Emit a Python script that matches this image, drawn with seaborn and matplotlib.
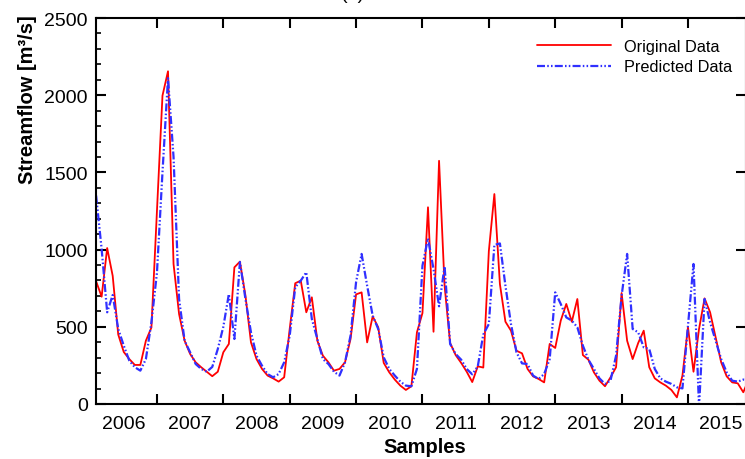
import numpy as np
import pandas as pd
import seaborn as sns
import matplotlib.pyplot as plt
from matplotlib.ticker import FixedLocator, MultipleLocator, NullFormatter

# monthly samples, Feb 2006 .. Dec 2015
original = [795, 695, 1010, 830, 450, 337, 291, 253, 253, 410, 495, 1250,
            1997, 2155, 907, 583, 410, 324, 270, 238, 209, 180, 209, 335,
            389, 885, 922, 702, 399, 291, 227, 184, 166, 145, 173, 486,
            782, 799, 594, 691, 410, 313, 270, 216, 227, 270, 421, 710,
            723, 399, 568, 497, 266, 205, 158, 119, 91, 115, 464, 589,
            1274, 468, 1575, 766, 395, 317, 266, 209, 142, 244, 236, 990,
            1360, 777, 533, 475, 345, 328, 227, 179, 162, 140, 389, 363,
            540, 648, 533, 680, 317, 287, 205, 151, 115, 173, 238, 719,
            410, 291, 395, 475, 238, 166, 140, 119, 91, 43, 184, 497,
            209, 486, 684, 594, 432, 270, 179, 140, 134, 76, 160]
predicted = [1350, 1004, 594, 706, 486, 378, 281, 238, 216, 291, 529, 850,
             1500, 2110, 1600, 680, 410, 335, 259, 227, 209, 240, 356, 500,
             712, 421, 920, 680, 464, 313, 248, 194, 173, 194, 270, 443,
             756, 799, 853, 551, 421, 291, 259, 209, 184, 270, 443, 790,
             972, 766, 572, 486, 302, 227, 184, 145, 119, 115, 227, 896,
             1073, 874, 633, 892, 389, 324, 287, 227, 192, 244, 450, 518,
             1030, 1040, 766, 518, 335, 263, 259, 184, 162, 194, 291, 723,
             648, 561, 540, 497, 378, 287, 227, 166, 130, 152, 313, 700,
             972, 486, 464, 367, 356, 227, 166, 145, 130, 108, 101, 507,
             907, -20, 680, 529, 410, 291, 205, 151, 145, 158, 155]
years = [2006, 2007, 2008, 2009, 2010, 2011, 2012, 2013, 2014, 2015]

df = pd.DataFrame({
    "t": 2006 + np.arange(1, len(original) + 1) / 12,
    "Original Data": original,
    "Predicted Data": predicted,
})

sns.set_style("ticks", {"axes.edgecolor": "black", "text.color": "black",
                        "xtick.color": "black", "ytick.color": "black",
                        "axes.labelcolor": "black"})
plt.rcParams["font.family"] = ["Liberation Sans", "DejaVu Sans"]

fig = plt.figure(figsize=(7.45, 4.6), dpi=100)
ax = fig.add_axes([96.1 / 745, 55 / 460, 649.4 / 745, 386 / 460])

sns.lineplot(data=df, x="t", y="Original Data", ax=ax, color="#ff0000",
             lw=1.3, label="Original Data")
sns.lineplot(data=df, x="t", y="Predicted Data", ax=ax, color="#3030ff",
             lw=1.6, linestyle=(0, (3.6, 1.0, 0.7, 1.0, 0.7, 1.0)),
             label="Predicted Data")

ax.set_xlim(2006 + 1 / 12, 2006 + (745.5 - 90.6) / 66.375)
ax.set_ylim(0, 2500)

# year boundaries as ticks, year names in between
ax.xaxis.set_major_locator(FixedLocator(years[1:]))
ax.xaxis.set_major_formatter(NullFormatter())
ax.xaxis.set_minor_locator(FixedLocator([y + 0.5 for y in years]))
ax.set_xticklabels([str(y) for y in years], minor=True)
ax.tick_params(axis="x", which="major", direction="in", length=7, width=1.5,
               top=True, bottom=True)
ax.tick_params(axis="x", which="minor", length=0, pad=8, labelsize=14)

ax.yaxis.set_major_locator(MultipleLocator(500))
ax.yaxis.set_minor_locator(MultipleLocator(100))
ax.tick_params(axis="y", which="major", direction="in", length=7, width=1.5,
               left=True, right=True, labelsize=14, pad=6)
ax.tick_params(axis="y", which="minor", direction="in", length=3.5,
               width=1.2, left=True, right=False)

for s in ax.spines.values():
    s.set_linewidth(1.5)
    s.set_visible(True)

ax.set_xlabel("Samples", fontsize=14.5, fontweight="bold")
ax.set_ylabel("Streamflow [m³/s]", fontsize=14.5, fontweight="bold")
ax.xaxis.label.set_va("center")
ax.yaxis.label.set_va("center")
ax.xaxis.set_label_coords(0.5065, -0.11)
ax.yaxis.set_label_coords(-0.105, 0.79)

ax.legend(loc="upper left", bbox_to_anchor=(536.7 / 745, 1 - 40 / 460),
          bbox_transform=fig.transFigure, frameon=False, fontsize=11.7,
          handlelength=4.6, handletextpad=0.75, labelspacing=0.32,
          borderpad=0, borderaxespad=0)

fig.text(353 / 745, 1.002, "(a)", ha="center", va="baseline", fontsize=14)

fig.savefig("out.png", dpi=100)
